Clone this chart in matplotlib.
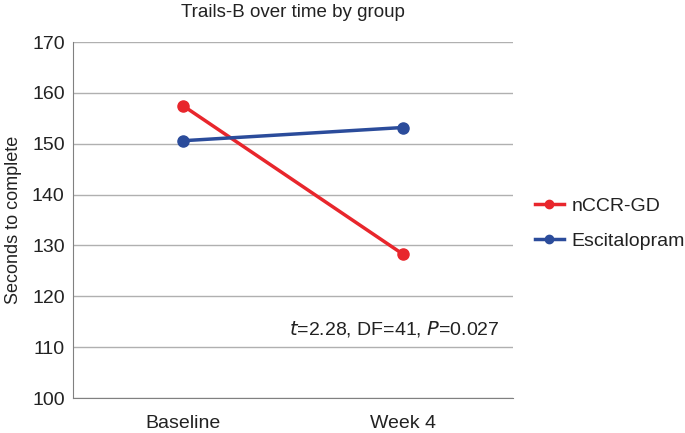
import matplotlib
matplotlib.use("Agg")
from matplotlib import pyplot as plt

plt.rcParams['font.family'] = ['Liberation Sans', 'DejaVu Sans']

# data
timepoints = ["Baseline", "Week 4"]
nccr_gd = [157.5, 128.3]
escitalopram = [150.6, 153.2]
yticks = [100, 110, 120, 130, 140, 150, 160, 170]

fig = plt.figure(figsize=(6.85, 4.33), dpi=100)
ax = fig.add_axes([0.1066, 0.0808, 0.642, 0.822])

x = range(len(timepoints))
ax.plot(x, nccr_gd, color="#e8262c", lw=2.5, marker="o", ms=8, label="nCCR-GD", zorder=3)
ax.plot(x, escitalopram, color="#2b4c9b", lw=2.5, marker="o", ms=8, label="Escitalopram", zorder=3)

ax.set_xlim(-0.5, 1.5)
ax.set_ylim(100, 170)
ax.set_yticks(yticks)
ax.set_xticks(list(x))
ax.set_xticklabels(timepoints)
ax.yaxis.grid(True, color="#b0b0b0", lw=1)
ax.set_axisbelow(True)
for s in ["top", "right"]:
    ax.spines[s].set_visible(False)
ax.spines["left"].set_color("#808080")
ax.spines["bottom"].set_color("#808080")
ax.tick_params(axis="both", length=0, labelsize=14, colors="#222222")
ax.tick_params(axis="y", pad=6)
ax.tick_params(axis="x", pad=12)
ax.set_ylabel("Seconds to complete", fontsize=13, labelpad=7, color="#222222")
ax.set_title("Trails-B over time by group", fontsize=13.5, pad=18, color="#222222")

ax.text(0.97, 0.195, r"$t$=2.28, DF=41, $P$=0.027", transform=ax.transAxes,
        ha="right", va="center", fontsize=14, color="#222222")

leg = ax.legend(loc="center left", bbox_to_anchor=(1.01, 0.49), frameon=False,
                fontsize=14, handlelength=1.5, handletextpad=0.4,
                labelspacing=0.9, markerscale=0.75)
for t in leg.get_texts():
    t.set_color("#222222")

fig.savefig("out.png", dpi=100)
